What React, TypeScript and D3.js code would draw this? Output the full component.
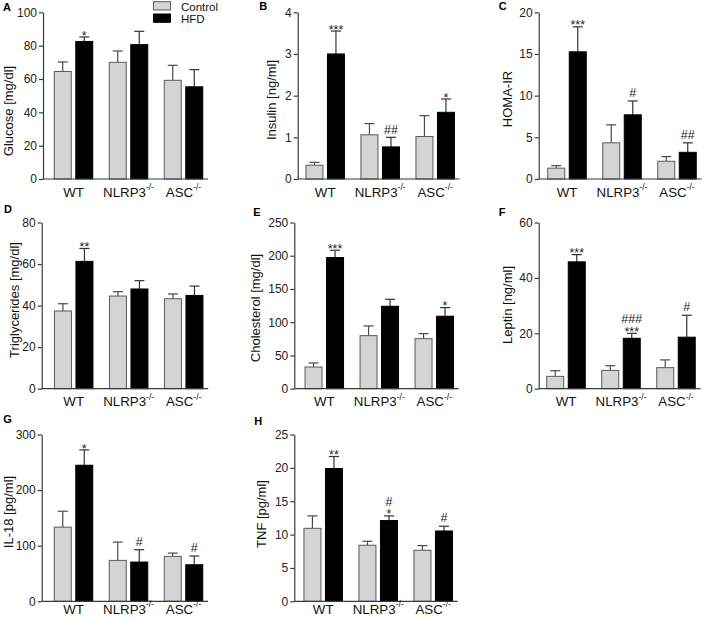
import React, { useEffect, useRef } from 'react';
import * as d3 from 'd3';

const groups = ['WT', 'NLRP3', 'ASC'];
const series = ['Control', 'HFD'];
const groupSup = ['', '-/-', '-/-'];

// A - glucose [mg/dl]
const glucoseCtrl = [64.5, 70, 59.2];
const glucoseCtrlSem = [5.7, 6.8, 9];
const glucoseHfd = [82.5, 80.6, 55.3];
const glucoseHfdSem = [2.7, 8, 10.3];
const glucoseSig = [['*'], [], []];

// B - insulin [ng/ml]
const insulinCtrl = [0.33, 1.06, 1.02];
const insulinCtrlSem = [0.07, 0.27, 0.5];
const insulinHfd = [3.0, 0.77, 1.6];
const insulinHfdSem = [0.55, 0.23, 0.32];
const insulinSig = [['***'], ['##'], ['*']];

// C - HOMA-IR
const homaCtrl = [1.3, 4.34, 2.13];
const homaCtrlSem = [0.3, 2.16, 0.56];
const homaHfd = [15.26, 7.7, 3.2];
const homaHfdSem = [3.0, 1.66, 1.14];
const homaSig = [['***'], ['#'], ['##']];

// D - triglycerides [mg/dl]
const trigCtrl = [37.4, 44.6, 43.3];
const trigCtrlSem = [3.5, 2.1, 2.3];
const trigHfd = [61.3, 48, 44.9];
const trigHfdSem = [6.2, 4, 4.5];
const trigSig = [['**'], [], []];

// E - cholesterol [mg/dl]
const cholCtrl = [32.6, 79.8, 75.3];
const cholCtrlSem = [6.1, 14.6, 7.5];
const cholHfd = [197.3, 124, 109];
const cholHfdSem = [11, 10.5, 13];
const cholSig = [['***'], [], ['*']];

// F - leptin [ng/ml]
const leptinCtrl = [4.46, 6.6, 7.6];
const leptinCtrlSem = [2.04, 1.7, 2.8];
const leptinHfd = [45.8, 18.2, 18.6];
const leptinHfdSem = [2.6, 1.8, 7.9];
const leptinSig = [['***'], ['***', '###'], ['#']];

// G - IL-18 [pg/ml]
const il18Ctrl = [133.4, 73.6, 80.8];
const il18CtrlSem = [28.6, 32.9, 5.9];
const il18Hfd = [244.7, 70.6, 65.8];
const il18HfdSem = [27.6, 22.2, 15.6];
const il18Sig = [['*'], ['#'], ['#']];

// H - TNF [pg/ml]
const tnfCtrl = [10.94, 8.4, 7.65];
const tnfCtrlSem = [1.86, 0.6, 0.7];
const tnfHfd = [19.9, 12.1, 10.54];
const tnfHfdSem = [1.8, 0.7, 0.71];
const tnfSig = [['**'], ['*', '#'], ['#']];

const font = "'Liberation Sans', Arial, Helvetica, sans-serif";
const ctrlFill = '#d4d4d4';
const ctrlStroke = '#5a5a5a';
const axisColor = '#3a3a3a';

// row extents (y of top tick / zero line) and where the group labels sit
const rows = [
    { top: 12.3, bottom: 179, labelDy: 17.5 },
    { top: 222.5, bottom: 388.7, labelDy: 17.5 },
    { top: 434.5, bottom: 601.3, labelDy: 12.2 },
];

const panels = [
    { letter: 'A', title: 'Glucose [mg/dl]', ctrl: glucoseCtrl, ctrlSem: glucoseCtrlSem, hfd: glucoseHfd, hfdSem: glucoseHfdSem, sig: glucoseSig, max: 100, step: 20,
        row: 0, axisX: 43, bandX: 46, labelX: 12.5, labelY: 111, letterX: 3, letterY: 11 },
    { letter: 'B', title: 'Insulin [ng/ml]', ctrl: insulinCtrl, ctrlSem: insulinCtrlSem, hfd: insulinHfd, hfdSem: insulinHfdSem, sig: insulinSig, max: 4, step: 1,
        row: 0, axisX: 297.7, bandX: 297.7, labelX: 276.2, labelY: 100, letterX: 259.3, letterY: 10 },
    { letter: 'C', title: 'HOMA-IR', ctrl: homaCtrl, ctrlSem: homaCtrlSem, hfd: homaHfd, hfdSem: homaHfdSem, sig: homaSig, max: 20, step: 5,
        row: 0, axisX: 538.7, bandX: 539.5, labelX: 512, labelY: 99, letterX: 498.7, letterY: 10 },
    { letter: 'D', title: 'Triglycerides [mg/dl]', ctrl: trigCtrl, ctrlSem: trigCtrlSem, hfd: trigHfd, hfdSem: trigHfdSem, sig: trigSig, max: 80, step: 20,
        row: 1, axisX: 41.7, bandX: 46.2, labelX: 18.8, labelY: 300, letterX: 4, letterY: 213 },
    { letter: 'E', title: 'Cholesterol [mg/dl]', ctrl: cholCtrl, ctrlSem: cholCtrlSem, hfd: cholHfd, hfdSem: cholHfdSem, sig: cholSig, max: 250, step: 50,
        row: 1, axisX: 294.3, bandX: 296.8, labelX: 259.5, labelY: 308, letterX: 253.3, letterY: 216 },
    { letter: 'F', title: 'Leptin [ng/ml]', ctrl: leptinCtrl, ctrlSem: leptinCtrlSem, hfd: leptinHfd, hfdSem: leptinHfdSem, sig: leptinSig, max: 60, step: 20,
        row: 1, axisX: 538.7, bandX: 538.5, labelX: 512.2, labelY: 305, letterX: 498.7, letterY: 215.7 },
    { letter: 'G', title: 'IL-18 [pg/ml]', ctrl: il18Ctrl, ctrlSem: il18CtrlSem, hfd: il18Hfd, hfdSem: il18HfdSem, sig: il18Sig, max: 300, step: 100,
        row: 2, axisX: 41.7, bandX: 46, labelX: 12.5, labelY: 512, letterX: 3.3, letterY: 423.3 },
    { letter: 'H', title: 'TNF [pg/ml]', ctrl: tnfCtrl, ctrlSem: tnfCtrlSem, hfd: tnfHfd, hfdSem: tnfHfdSem, sig: tnfSig, max: 25, step: 5,
        row: 2, axisX: 294.3, bandX: 295.7, labelX: 266.2, labelY: 514, letterX: 254.3, letterY: 425.3 },
];

const App = () => {
    const anchor = useRef<SVGSVGElement>(null);

    useEffect(() => {
        const svg = d3.select(anchor.current);
        svg.selectAll('*').remove();

        drawLegend();
        panels.forEach(drawPanel);

        function drawLegend() {
            const lg = svg.append('g').attr('font-family', font);
            const items = [
                { name: series[0], fill: ctrlFill, stroke: ctrlStroke, y: 1.7, base: 10.5 },
                { name: series[1], fill: '#000', stroke: '#000', y: 14, base: 23.3 },
            ];
            items.forEach((it) => {
                lg.append('rect').attr('x', 153.5).attr('y', it.y).attr('width', 17).attr('height', 8.3)
                    .attr('fill', it.fill).attr('stroke', it.stroke).attr('stroke-width', 1);
                lg.append('text').attr('x', 181).attr('y', it.base).attr('font-size', 11.5)
                    .attr('fill', '#111').text(it.name);
            });
        }

        function drawPanel(p) {
            const { top, bottom, labelDy } = rows[p.row];
            const g = svg.append('g').attr('font-family', font);

            const y = d3.scaleLinear().domain([0, p.max]).range([bottom, top]);
            const x = d3.scaleBand().domain(groups).range([p.bandX, p.bandX + 165]);
            const inner = d3.scaleBand().domain(series)
                .range([x.bandwidth() / 2 - 19.25, x.bandwidth() / 2 + 19.25])
                .paddingInner(0.21);

            // bars + error bars
            const barData = groups.map((grp, i) => [
                { grp, s: series[0], v: p.ctrl[i], e: p.ctrlSem[i] },
                { grp, s: series[1], v: p.hfd[i], e: p.hfdSem[i] },
            ]).flat();

            const bars = g.append('g');
            barData.forEach((d) => {
                const bx = x(d.grp) + inner(d.s);
                const cx = bx + inner.bandwidth() / 2;
                const isCtrl = d.s === series[0];
                const errColor = isCtrl ? '#4a4a4a' : '#333';
                // error bar (upper only)
                bars.append('line').attr('x1', cx).attr('x2', cx).attr('y1', y(d.v)).attr('y2', y(d.v + d.e))
                    .attr('stroke', errColor).attr('stroke-width', 1.2);
                bars.append('line').attr('x1', cx - 5).attr('x2', cx + 5).attr('y1', y(d.v + d.e)).attr('y2', y(d.v + d.e))
                    .attr('stroke', errColor).attr('stroke-width', 1.2);
                bars.append('rect').attr('x', bx).attr('y', y(d.v))
                    .attr('width', inner.bandwidth()).attr('height', y(0) - y(d.v))
                    .attr('fill', isCtrl ? ctrlFill : '#000')
                    .attr('stroke', isCtrl ? ctrlStroke : '#000').attr('stroke-width', 1);
            });

            // significance marks above HFD error bars
            groups.forEach((grp, i) => {
                const cx = x(grp) + inner(series[1]) + inner.bandwidth() / 2;
                const cap = y(p.hfd[i] + p.hfdSem[i]);
                let base = null;
                p.sig[i].forEach((s) => {
                    const star = s.startsWith('*');
                    base = base === null ? cap + (star ? 2.6 : -3.8) : base - 12.5;
                    g.append('text').attr('x', cx).attr('y', base).attr('text-anchor', 'middle')
                        .attr('font-size', 12.5).attr('fill', '#222').text(s);
                });
            });

            // y axis
            const yAxis = d3.axisLeft(y)
                .tickValues(d3.range(0, p.max + p.step / 2, p.step))
                .tickFormat(d3.format('d'))
                .tickSize(4).tickSizeOuter(0).tickPadding(2);
            const ya = g.append('g').attr('transform', `translate(${p.axisX},0)`).call(yAxis);
            ya.select('.domain').attr('stroke', axisColor).attr('stroke-width', 1.2);
            ya.selectAll('.tick line').attr('stroke', axisColor).attr('stroke-width', 1.2);
            ya.selectAll('.tick text').attr('font-size', 12).attr('font-family', font).attr('fill', '#222');

            // x axis (plain baseline, no ticks)
            g.append('line').attr('x1', p.axisX).attr('x2', p.bandX + 162).attr('y1', bottom).attr('y2', bottom)
                .attr('stroke', axisColor).attr('stroke-width', 1.2);

            // group labels with superscript
            groups.forEach((grp, i) => {
                const t = g.append('text').attr('x', x(grp) + x.bandwidth() / 2).attr('y', bottom + labelDy)
                    .attr('text-anchor', 'middle').attr('font-size', 13.3).attr('fill', '#111');
                t.append('tspan').text(grp);
                if (groupSup[i]) t.append('tspan').attr('dy', -6.5).attr('font-size', 8.5).text(groupSup[i]);
            });

            // y title
            g.append('text').attr('transform', `translate(${p.labelX},${p.labelY}) rotate(-90)`)
                .attr('text-anchor', 'middle').attr('font-size', 13).attr('fill', '#111').text(p.title);

            // panel letter
            g.append('text').attr('x', p.letterX).attr('y', p.letterY).attr('font-size', 11)
                .attr('font-weight', 'bold').attr('fill', '#000').text(p.letter);
        }
    }, []);

    return <svg ref={anchor} width={708} height={619}
                style={{ position: 'absolute', left: 0, top: 0, display: 'block', background: '#fff' }}/>;
};

export default App;
